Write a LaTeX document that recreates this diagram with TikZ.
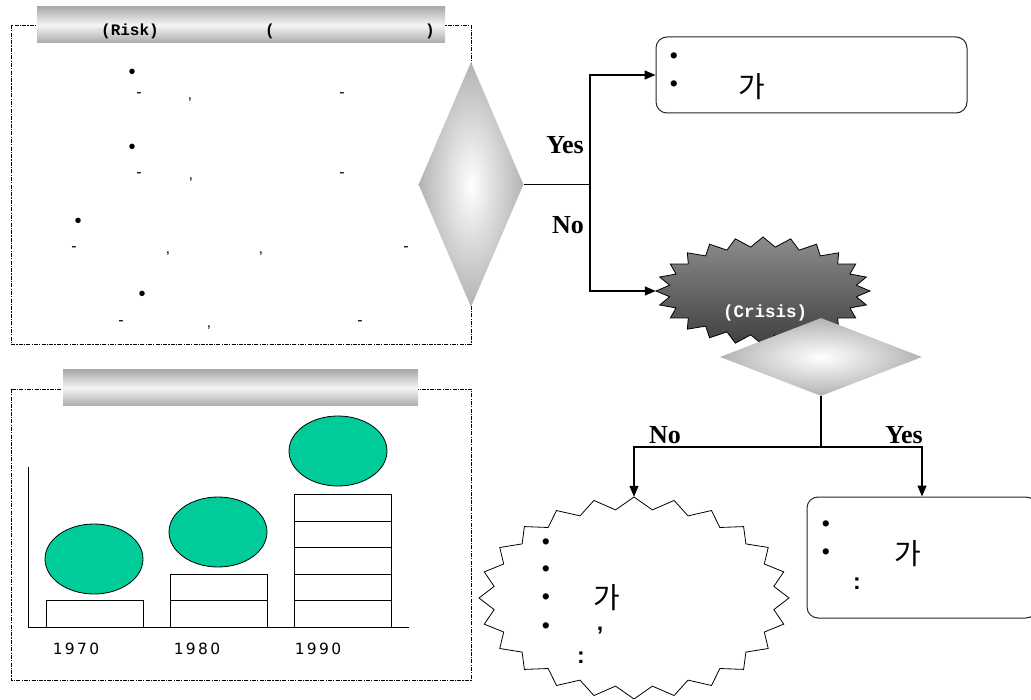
\documentclass[tikz,border=0pt]{standalone}
\usepackage{fontspec}
\setmainfont{Liberation Sans}
\newfontfamily\korfont{Noto Sans CJK KR}
\newfontfamily\monobfont{Liberation Mono}
\newfontfamily\serifbfont{Liberation Serif}
\newfontfamily\yearfont[LetterSpace=15]{DejaVu Sans}
\usetikzlibrary{shapes.geometric,arrows.meta}
\definecolor{bubble}{RGB}{0,204,153}
\newcommand\symb{•}
\newcommand\symd{{\fontsize{16}{16}\selectfont -}}
\newcommand\symc{{\fontsize{15}{15}\selectfont ,}}
\newcommand\symm{{\bfseries ,}}
\newcommand\symk{{\korfont\fontsize{29}{29}\selectfont 가}}
\newcommand\symo{{\bfseries :}}
\begin{document}
\begin{tikzpicture}[x=1pt,y=-1pt,
  dashbox/.style={draw, line width=0.9pt, dash pattern=on 4pt off 1.2pt on 1.2pt off 1.2pt},
  banner/.style={top color=black!33, bottom color=black!33, middle color=black!4, draw=none},
  dmd/.style={diamond, inner sep=0pt, draw=none, shading=radial, inner color=white, outer color=black!30},
  conn/.style={line width=1.3pt},
  arr/.style={line width=1.3pt, -{Triangle[length=11pt,width=9pt]}},
  rbox/.style={draw=black!85, line width=1pt, rounded corners=11pt, inner sep=0pt},
  ghost/.style={inner sep=0pt, draw=none},
  ltext/.style={inner sep=0pt, font=\fontsize{20}{20}\selectfont},
  rtext/.style={inner sep=0pt, font=\fontsize{23}{23}\selectfont},
  yn/.style={inner sep=0pt, font=\serifbfont\bfseries\fontsize{26}{26}\selectfont},
  mono/.style={inner sep=0pt, font=\monobfont\bfseries\fontsize{16}{16}\selectfont},
  bar/.style={draw, line width=1pt, fill=white},
  oval/.style={draw, line width=0.8pt, fill=bubble},
  yr/.style={inner sep=0pt, anchor=base, font=\yearfont\fontsize{15.5}{15.5}\selectfont}
]
\useasboundingbox (0,0) rectangle (1031,700);

% ---------- top-left panel ----------
\draw[dashbox] (11,25) rectangle (471,344);
\fill[banner] (37,7) rectangle (445,43);
\node[mono] (risk) at (130,31) {(Risk)};
\node[mono] (lp) at (270,31) {(};
\node[mono] (rp) at (430,31) {)};
\foreach \t/\px/\py [count=\i] in {
  b/132/74, d/139/95, c/190/100, d/342/95,
  b/132/149, d/139/175, c/191/180, d/342/175,
  b/78/223, d/74/249, c/168/254, c/261/254, d/406/249,
  b/142/296, d/121/323, c/209/328, d/360/323}
  \node[ltext, name=lt\i] at (\px,\py) {\csname sym\t\endcsname};

% ---------- decision 1 ----------
\node[dmd, minimum width=105pt, minimum height=245pt] (d1) at (471,184.5) {};
\coordinate (j1) at (590,184.5);
\node[yn, anchor=base east] (yes1) at (584,154) {Yes};
\node[yn, anchor=base east] (no1) at (584,234) {No};

% top-right box
\node[rbox, minimum width=311pt, minimum height=76pt] (box1) at (811.5,75) {};
\foreach \t/\px/\py [count=\i] in {b/674/58, b/674/86, k/752/87}
  \node[rtext, name=bt\i] at (\px,\py) {\csname sym\t\endcsname};

% dark starburst (crisis)
\draw[line width=0.8pt, top color=black!45, bottom color=black!75]
  plot[variable=\k, samples at={0,...,47}]
  ({763+107*(1-0.12*mod(\k,2))*cos(7.5*\k)}, {291-54*(1-0.18*mod(\k,2))*sin(7.5*\k)}) -- cycle;
\node[ghost, minimum width=214pt, minimum height=108pt] (sb1) at (763,291) {};
\node[mono, text=white, font=\monobfont\bfseries\fontsize{17.5}{17.5}\selectfont] (crisis) at (765,313) {(Crisis)};

\draw[conn] (d1.east) -- (j1);
\draw[arr] (j1) |- (box1.west);
\draw[arr] (j1) |- (sb1.west);

% ---------- decision 2 ----------
\node[dmd, minimum width=202pt, minimum height=78pt] (d2) at (821,357) {};
\coordinate (j2) at (821,447);
\node[yn, anchor=base west] (no2) at (649,443) {No};
\node[yn, anchor=base east] (yes2) at (923,443) {Yes};

% white starburst
\draw[line width=0.8pt, fill=white]
  plot[variable=\k, samples at={0,...,47}]
  ({634+155*(1-0.09*mod(\k,2))*cos(90+7.5*\k)}, {598-101*(1-0.12*mod(\k,2))*sin(90+7.5*\k)}) -- cycle;
\node[ghost, minimum width=310pt, minimum height=202pt] (sb2) at (634,598) {};
\foreach \t/\px/\py [count=\i] in {b/546/544, b/546/571, b/546/599, b/546/628, k/607/598, m/600/631, o/581/658}
  \node[rtext, name=st\i] at (\px,\py) {\csname sym\t\endcsname};

% bottom-right box
\node[rbox, minimum width=230pt, minimum height=121pt] (box3) at (922,557.5) {};
\foreach \t/\px/\py [count=\i] in {b/826/526, b/826/554, k/908/554, o/857/584}
  \node[rtext, name=rt\i] at (\px,\py) {\csname sym\t\endcsname};

\draw[conn] (d2.south) -- (j2);
\draw[arr] (j2) -| (sb2.north);
\draw[arr] (j2) -| (box3.north);

% ---------- bottom-left panel ----------
\draw[dashbox] (11,389) rectangle (471,680);
\fill[banner] (63,370) rectangle (418,406);
\draw[line width=0.8pt] (28,467) -- (28,627) -- (409,627);
\draw[bar] (46,600) rectangle (143,627);
\draw[bar] (170,574) rectangle (267,600);
\draw[bar] (170,600) rectangle (267,627);
\foreach \ya/\yb in {494/521, 521/547, 547/574, 574/600, 600/627}
  \draw[bar] (294,\ya) rectangle (391,\yb);
\draw[oval] (94,559) ellipse [x radius=49, y radius=35];
\draw[oval] (218,532) ellipse [x radius=49, y radius=35];
\draw[oval] (338,451) ellipse [x radius=49, y radius=35];
\node[yr] (y70) at (76,654) {1970};
\node[yr] (y80) at (197,654) {1980};
\node[yr] (y90) at (318,654) {1990};
\end{tikzpicture}
\end{document}
